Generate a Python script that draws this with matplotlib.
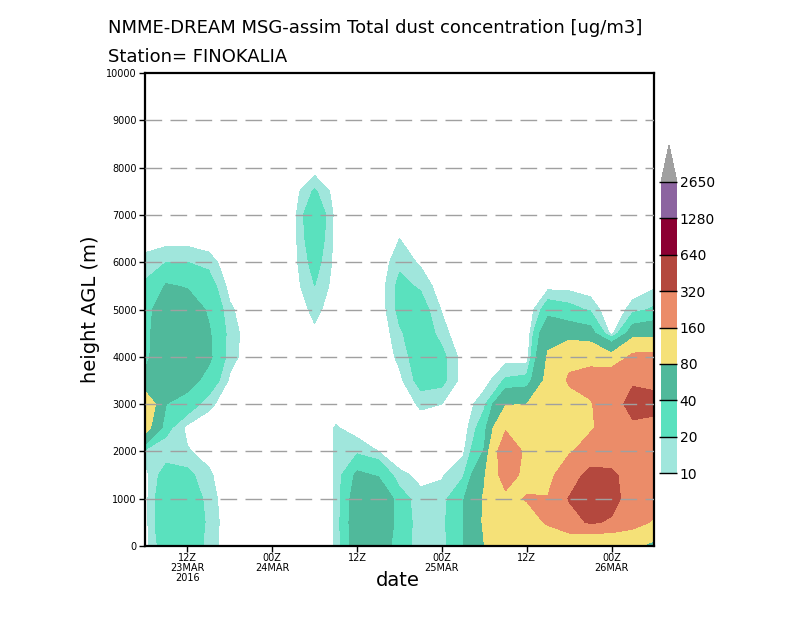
import numpy as np
import matplotlib
matplotlib.use("Agg")
import matplotlib.pyplot as plt
from matplotlib.colors import ListedColormap, BoundaryNorm

# hours since 00Z 23MAR2016
hours = [6, 9, 12, 15, 18, 21, 24, 27, 30, 33, 36, 39, 42, 45, 48, 51, 54, 57, 60, 63, 66, 69, 72, 75, 78]
# height AGL (m)
heights = [0, 250, 500, 1000, 1500, 2000, 2500, 3000, 3500, 4000, 4500, 5000, 5500,
           6000, 6500, 7000, 7500, 8000, 8500]

# dust concentration (ug/m3), one list per time, bottom to top
conc_by_hour = [
    [6, 6, 6, 6, 6, 14, 100, 120, 45, 34, 32, 30, 22, 14, 4, 0, 0, 0, 0],
    [30, 33, 35, 35, 28, 12, 25, 40, 50, 60, 62, 58, 42, 20, 5, 0, 0, 0, 0],
    [32, 34, 35, 33, 24, 11, 7, 30, 50, 62, 65, 55, 38, 20, 5, 0, 0, 0, 0],
    [16, 16, 17, 15, 12, 6, 3, 13, 32, 45, 43, 37, 28, 16, 2, 0, 0, 0, 0],
    [3, 3, 3, 3, 2, 0, 0, 3, 8, 14, 15, 12, 6, 2, 0, 0, 0, 0, 0],
    [0, 0, 0, 0, 0, 0, 0, 0, 2, 4, 4, 2, 0, 0, 0, 0, 0, 0, 0],
    [0, 0, 0, 0, 0, 0, 0, 0, 0, 0, 0, 0, 0, 0, 0, 0, 0, 0, 0],
    [0, 0, 0, 0, 0, 0, 0, 0, 0, 0, 0, 3, 5, 6, 6, 6, 5, 2, 0],
    [0, 0, 0, 0, 0, 0, 0, 0, 0, 3, 8, 13, 20, 26, 32, 36, 22, 4, 0],
    [11, 11, 11, 11, 11, 11, 11, 3, 0, 0, 0, 4, 5, 6, 6, 6, 5, 2, 0],
    [55, 57, 58, 55, 45, 17, 5, 0, 0, 0, 0, 0, 0, 0, 0, 0, 0, 0, 0],
    [55, 58, 62, 70, 38, 10, 3, 0, 0, 0, 0, 2, 3, 2, 0, 0, 0, 0, 0],
    [30, 31, 32, 28, 12, 4, 2, 3, 7, 13, 18, 24, 24, 17, 10, 2, 0, 0, 0],
    [12, 12, 12, 12, 8, 5, 4, 12, 26, 29, 30, 27, 18, 8, 3, 0, 0, 0, 0],
    [15, 15, 16, 14, 9, 3, 4, 10, 24, 24, 15, 9, 3, 0, 0, 0, 0, 0, 0],
    [38, 40, 40, 38, 18, 8, 4, 3, 5, 5, 0, 0, 0, 0, 0, 0, 0, 0, 0],
    [80, 82, 85, 85, 75, 42, 30, 17, 5, 0, 0, 0, 0, 0, 0, 0, 0, 0, 0],
    [120, 120, 120, 140, 200, 230, 150, 75, 22, 5, 0, 0, 0, 0, 0, 0, 0, 0, 0],
    [110, 110, 125, 165, 135, 140, 115, 80, 25, 4, 0, 0, 0, 0, 0, 0, 0, 0, 0],
    [110, 130, 170, 165, 130, 110, 105, 100, 95, 85, 65, 30, 6, 0, 0, 0, 0, 0, 0],
    [120, 150, 260, 330, 230, 150, 120, 130, 170, 140, 55, 25, 6, 0, 0, 0, 0, 0, 0],
    [100, 150, 340, 450, 380, 200, 150, 150, 200, 130, 50, 18, 3, 0, 0, 0, 0, 0, 0],
    [100, 140, 300, 380, 350, 240, 200, 240, 240, 95, 5, 0, 0, 0, 0, 0, 0, 0, 0],
    [90, 130, 200, 240, 250, 260, 290, 380, 300, 180, 55, 15, 3, 0, 0, 0, 0, 0, 0],
    [65, 100, 150, 200, 200, 220, 280, 360, 290, 180, 60, 22, 8, 0, 0, 0, 0, 0, 0],
]

levels = [10, 20, 40, 80, 160, 320, 640, 1280, 2650]
colors = ["#a0e6dc", "#5ae1be", "#50b99b", "#f5e178", "#eb8c69",
          "#b4483e", "#8c0032", "#8c64a0"]

tick_pos = [12, 24, 36, 48, 60, 72]
tick_labels = ["12Z\n23MAR\n2016", "00Z\n24MAR", "12Z", "00Z\n25MAR", "12Z", "00Z\n26MAR"]

cmap = ListedColormap(colors)
cmap.set_under("white")
cmap.set_over("#a0a0a0")
norm = BoundaryNorm(levels, cmap.N)

fig = plt.figure(figsize=(8, 6.18), dpi=100)
ax = fig.add_axes([145 / 800, 72 / 618, 509 / 800, 473 / 618])

Z = np.array(conc_by_hour, dtype=float).T
cs = ax.contourf(hours, heights, Z, levels=levels, cmap=cmap, norm=norm, extend="both")

for y in range(1000, 10000, 1000):
    ax.axhline(y, color="#a0a0a0", lw=1, ls=(0, (12, 6)), zorder=3)

ax.set_xlim(6, 78)
ax.set_ylim(0, 10000)
ax.set_yticks(range(0, 10001, 1000))
ax.set_yticklabels([str(v) for v in range(0, 10001, 1000)], fontsize=7)
ax.set_xticks(tick_pos)
ax.set_xticklabels(tick_labels, fontsize=7, linespacing=1.0)
ax.tick_params(axis="both", direction="out", length=4, width=1, pad=2)
ax.tick_params(axis="x", pad=1)
for s in ax.spines.values():
    s.set_linewidth(1.6)

ax.set_xlabel("date", fontsize=14)
ax.xaxis.set_label_coords(0.497, -0.072)
ax.xaxis.label.set_va("center")
ax.set_ylabel("height AGL (m)", fontsize=14)
ax.yaxis.set_label_coords(-0.108, 0.5)
ax.yaxis.label.set_va("center")

fig.text(108 / 800, 1 - 28 / 618, "NMME-DREAM MSG-assim Total dust concentration [ug/m3]",
         fontsize=13, va="center", ha="left")
fig.text(108 / 800, 1 - 57 / 618, "Station= FINOKALIA", fontsize=13, va="center", ha="left")

# colorbar
cax = fig.add_axes([661 / 800, 1 - 510 / 618, 16 / 800, 365 / 618])
cbar = fig.colorbar(cs, cax=cax, ticks=levels, extendfrac=0.127)
cbar.outline.set_visible(False)
cbar.ax.tick_params(direction="in", length=13, width=1, pad=2, labelsize=10)
cbar.ax.set_yticklabels([str(v) for v in levels])

plt.savefig("out.png", dpi=100)
